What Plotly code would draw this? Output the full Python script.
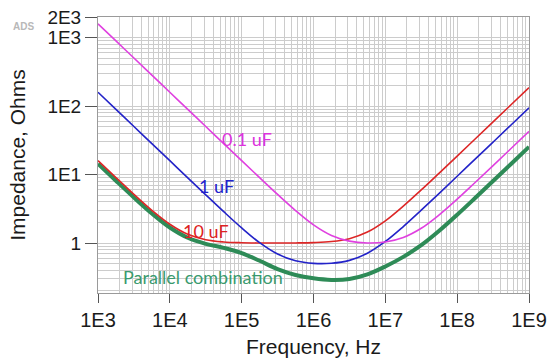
import math
import plotly.graph_objects as go

# Frequencies (Hz) at which the curves were read
freq = [1e3, 1.778e3, 3.162e3, 5.623e3, 1e4, 1.778e4, 3.162e4, 5.623e4,
        1e5, 1.778e5, 3.162e5, 5.623e5, 1e6, 1.778e6, 3.162e6, 5.623e6,
        1e7, 1.778e7, 3.162e7, 5.623e7, 1e8, 1.778e8, 3.162e8, 5.623e8, 1e9]

# Impedance magnitudes (Ohms)
z_10uF = [15.95, 9.01, 5.13, 3.00, 1.88, 1.34, 1.117, 1.037,
          1.010, 1.002, 1.000, 1.003, 1.014, 1.05, 1.158, 1.445,
          2.11, 3.46, 5.97, 10.5, 18.6, 33.1, 58.8, 104.6, 186.0]
z_1uF = [159.2, 89.5, 50.3, 28.3, 15.93, 8.96, 5.06, 2.87,
         1.66, 1.01, 0.689, 0.550, 0.504, 0.506, 0.558, 0.708,
         1.053, 1.74, 3.02, 5.32, 9.44, 16.8, 29.8, 53.0, 94.3]
z_01uF = [1592, 895, 503, 283, 159.2, 89.5, 50.3, 28.3,
          15.94, 9.0, 5.12, 2.98, 1.84, 1.29, 1.066, 1.001,
          1.035, 1.204, 1.641, 2.58, 4.37, 7.66, 13.5, 24.0, 42.7]
z_parallel = [14.37, 8.11, 4.62, 2.70, 1.686, 1.195, 0.974, 0.850,
              0.714, 0.550, 0.416, 0.341, 0.305, 0.289, 0.298, 0.348,
              0.454, 0.627, 0.929, 1.507, 2.585, 4.54, 8.04, 14.28, 25.4]

x_tickvals = [1e3, 1e4, 1e5, 1e6, 1e7, 1e8, 1e9]
x_ticktext = ["1E3", "1E4", "1E5", "1E6", "1E7", "1E8", "1E9"]
y_tickvals = [1, 10, 100, 1000, 2000]
y_ticktext = ["1", "1E1", "1E2", "1E3", "2E3"]

# Curve labels: text, x (Hz), y (Ohms), colour
label_text = ["0.1 uF", "1 uF", "10 uF", "Parallel combination"]
label_x = [1.2e5, 4.5e4, 3.2e4, 2.85e4]
label_y = [33.0, 6.8, 1.5, 0.32]
label_color = ["#dd33dd", "#2222cc", "#dd2222", "#3a9a6e"]

fig = go.Figure()
fig.add_trace(go.Scatter(x=freq, y=z_parallel, mode="lines", line_shape="spline",
                         line=dict(color="#2e8b57", width=4), name="Parallel combination"))
fig.add_trace(go.Scatter(x=freq, y=z_10uF, mode="lines", line_shape="spline",
                         line=dict(color="#dd2626", width=1.6), name="10 uF"))
fig.add_trace(go.Scatter(x=freq, y=z_1uF, mode="lines", line_shape="spline",
                         line=dict(color="#2323c8", width=1.6), name="1 uF"))
fig.add_trace(go.Scatter(x=freq, y=z_01uF, mode="lines", line_shape="spline",
                         line=dict(color="#e040e0", width=1.6), name="0.1 uF"))

for t, x, y, c in zip(label_text, label_x, label_y, label_color):
    fig.add_annotation(x=math.log10(x), y=math.log10(y), text=t, showarrow=False,
                       font=dict(family="Lato, sans-serif", size=18, color=c),
                       xanchor="center", yanchor="middle")

fig.add_annotation(xref="paper", yref="paper", x=-0.172, y=0.967, text="<b>ADS</b>",
                   showarrow=False, font=dict(family="Liberation Sans, Arial", size=10, color="#b8b8b8"),
                   xanchor="center", yanchor="middle")

grid_c = "#cccccc"
fig.update_xaxes(type="log", range=[3, 9], tickvals=x_tickvals, ticktext=x_ticktext,
                 showgrid=True, gridcolor=grid_c, gridwidth=1,
                 minor=dict(dtick="D1", showgrid=True, gridcolor=grid_c, gridwidth=1, ticks=""),
                 ticks="outside", ticklen=9, tickcolor="#555", tickwidth=1,
                 showline=True, linecolor="#9a9a9a", linewidth=1, mirror=True,
                 tickfont=dict(family="Liberation Sans, Arial", size=20, color="#1a1a1a"),
                 title=dict(text="Frequency, Hz", standoff=9,
                            font=dict(family="Liberation Sans, Arial", size=21, color="#1a1a1a")),
                 zeroline=False, automargin=False)
fig.update_yaxes(type="log", range=[-0.73, 3.301], tickvals=y_tickvals, ticktext=y_ticktext,
                 showgrid=True, gridcolor=grid_c, gridwidth=1,
                 minor=dict(dtick="D1", showgrid=True, gridcolor=grid_c, gridwidth=1, ticks=""),
                 ticks="outside", ticklen=12, tickcolor="#555", tickwidth=1,
                 showline=True, linecolor="#9a9a9a", linewidth=1, mirror=True,
                 tickfont=dict(family="Liberation Sans, Arial", size=19, color="#1a1a1a"),
                 title=dict(text="Impedance, Ohms", standoff=16,
                            font=dict(family="Liberation Sans, Arial", size=21, color="#1a1a1a")),
                 zeroline=False, automargin=False)

fig.update_layout(width=550, height=364, margin=dict(l=98, r=21, t=17, b=71),
                  plot_bgcolor="white", paper_bgcolor="white", showlegend=False)

fig.write_html("out.html", config={"displayModeBar": False},
               post_script="document.body.style.margin='0';")
